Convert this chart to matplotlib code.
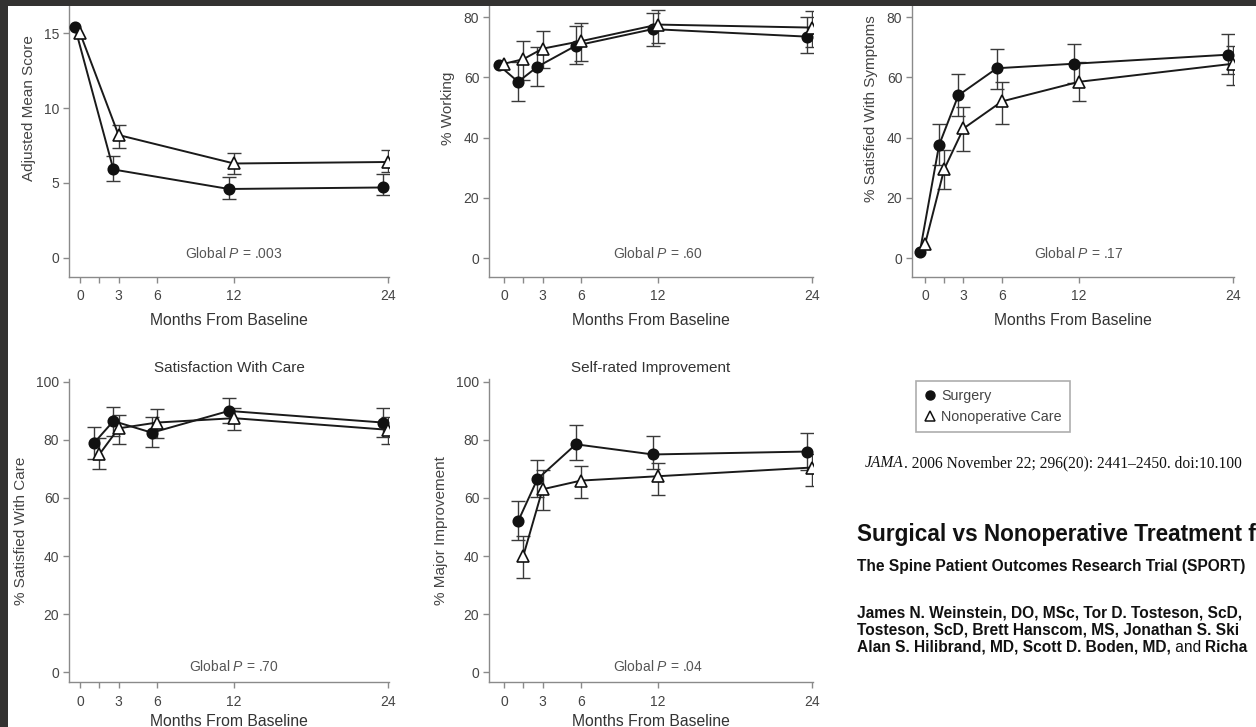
import matplotlib
matplotlib.use("Agg")
import matplotlib.pyplot as plt
from matplotlib.lines import Line2D
from matplotlib.patches import Rectangle
from matplotlib.transforms import blended_transform_factory

plt.rcParams["font.family"] = ["Liberation Sans", "DejaVu Sans"]
plt.rcParams["mathtext.fontset"] = "custom"
plt.rcParams["mathtext.rm"] = "Liberation Sans"
plt.rcParams["mathtext.it"] = "Liberation Sans:italic"

W, H = 1256, 727
DPI = 100

TICKS = [0, 1.5, 3, 6, 12, 24]
TICK_LABELS = ["0", "", "3", "6", "12", "24"]

# --- data ---
# panel 1: adjusted mean score
p1_months = [0, 3, 12, 24]
p1_surg = [15.4, 5.9, 4.6, 4.7]
p1_surg_lo = [None, 5.1, 3.9, 4.2]
p1_surg_hi = [None, 6.8, 5.4, 5.6]
p1_non = [15.0, 8.2, 6.3, 6.4]
p1_non_lo = [None, 7.3, 5.6, 5.7]
p1_non_hi = [None, 8.9, 7.0, 7.2]

# panel 2: % working
p2_months = [0, 1.5, 3, 6, 12, 24]
p2_surg = [64, 58.5, 63.5, 70.5, 76, 73.5]
p2_surg_lo = [None, 52, 57, 64.5, 70.5, 68]
p2_surg_hi = [None, 65, 70, 77, 81.5, 80]
p2_non = [64.5, 66, 69.5, 72, 77.5, 76.5]
p2_non_lo = [None, 59, 63, 65.5, 71.5, 70]
p2_non_hi = [None, 72, 75.5, 78, 82.5, 82]

# panel 3: % satisfied with symptoms
p3_months = [0, 1.5, 3, 6, 12, 24]
p3_surg = [2, 37.5, 54, 63, 64.5, 67.5]
p3_surg_lo = [None, 31, 47, 56, 58, 61]
p3_surg_hi = [None, 44.5, 61, 69.5, 71, 74.5]
p3_non = [4.5, 29.5, 43, 52, 58.5, 64.5]
p3_non_lo = [None, 23, 35.5, 44.5, 52, 57.5]
p3_non_hi = [None, 36, 50, 58.5, 65, 70.5]

# panel 4: satisfaction with care
p4_months = [1.5, 3, 6, 12, 24]
p4_surg = [79, 86.5, 82.5, 90, 86]
p4_surg_lo = [73.5, 81.5, 77.5, 86, 81]
p4_surg_hi = [84.5, 91.5, 88, 94.5, 91]
p4_non = [75, 84, 86, 87.5, 83.5]
p4_non_lo = [70, 78.5, 80.5, 83.5, 78.5]
p4_non_hi = [80.5, 88.5, 90.5, 91, 88]

# panel 5: self-rated improvement
p5_months = [1.5, 3, 6, 12, 24]
p5_surg = [52, 66.5, 78.5, 75, 76]
p5_surg_lo = [45.5, 60.5, 73, 70, 69.5]
p5_surg_hi = [59, 73, 85, 81.5, 82.5]
p5_non = [40, 63, 66, 67.5, 70.5]
p5_non_lo = [32.5, 56, 60, 61, 64]
p5_non_hi = [47, 69.5, 71, 72, 75]

SURG_SHIFT = -0.4   # surgery points are drawn a little left of the visit
NON_SHIFT = 0.0

fig = plt.figure(figsize=(W / DPI, H / DPI), dpi=DPI)
fig.patch.set_facecolor("white")
renderer = fig.canvas.get_renderer()


def px_axes(left, right, top, bottom):
    return fig.add_axes([left / W, 1 - bottom / H, (right - left) / W, (bottom - top) / H])


def series(ax, months, vals, lo, hi, shift, marker, face, ms):
    xs = [m + shift for m in months]
    ex, ey, el, eh = [], [], [], []
    for x, v, a, b in zip(xs, vals, lo, hi):
        if a is None:
            continue
        ex.append(x)
        ey.append(v)
        el.append(v - a)
        eh.append(b - v)
    ax.errorbar(ex, ey, yerr=[el, eh], fmt="none", ecolor="#3a3a3a",
                elinewidth=1.0, capsize=5, capthick=1.0, zorder=2)
    ax.plot(xs, vals, color="#1a1a1a", lw=1.4, marker=marker, ms=ms,
            mfc=face, mec="#111111", mew=1.2, zorder=3)


def panel(rect, xlim, ylim, yticks, ylabel, months, s, s_lo, s_hi, n, n_lo, n_hi,
          ptext, ptext_y, title=None, ylabel_y=0.5, xlabelpad=5):
    ax = px_axes(*rect)
    series(ax, months, s, s_lo, s_hi, SURG_SHIFT, "o", "#111111", 7.5)
    series(ax, months, n, n_lo, n_hi, NON_SHIFT, "^", "white", 8.5)
    ax.set_xlim(*xlim)
    ax.set_ylim(*ylim)
    ax.set_xticks(TICKS)
    ax.set_xticklabels(TICK_LABELS)
    ax.set_yticks(yticks)
    for side in ("top", "right"):
        ax.spines[side].set_visible(False)
    for side in ("left", "bottom"):
        ax.spines[side].set_color("#8a8a8a")
        ax.spines[side].set_linewidth(1.0)
    ax.tick_params(colors="#8a8a8a", labelcolor="#444444", labelsize=10,
                   length=4, width=1.0, pad=3)
    ax.tick_params(axis="x", pad=5)
    ax.set_xlabel("Months From Baseline", fontsize=11.3, color="#333333",
                  labelpad=xlabelpad)
    ax.set_ylabel(ylabel, fontsize=11, color="#444444", labelpad=6)
    ax.yaxis.label.set_y(ylabel_y)
    tr = blended_transform_factory(ax.transData, ax.transAxes)
    ax.text(12, ptext_y, ptext, transform=tr, ha="center", va="center",
            fontsize=10, color="#555555")
    if title:
        ax.set_title(title, fontsize=11, color="#333333", pad=5)
    return ax


panel((69, 389, 5, 277), (-0.86, 24.08), (-1.27, 16.87), [0, 5, 10, 15],
      "Adjusted Mean Score", p1_months, p1_surg, p1_surg_lo, p1_surg_hi,
      p1_non, p1_non_lo, p1_non_hi, "Global $P$ = .003", 0.085,
      ylabel_y=0.62, xlabelpad=7)
panel((489, 813, 5, 277), (-1.17, 24.08), (-6.3, 84), [0, 20, 40, 60, 80],
      "% Working", p2_months, p2_surg, p2_surg_lo, p2_surg_hi,
      p2_non, p2_non_lo, p2_non_hi, "Global $P$ = .60", 0.085,
      ylabel_y=0.62, xlabelpad=7)
panel((912, 1234, 5, 277), (-1.01, 24.08), (-6.3, 84), [0, 20, 40, 60, 80],
      "% Satisfied With Symptoms", p3_months, p3_surg, p3_surg_lo, p3_surg_hi,
      p3_non, p3_non_lo, p3_non_hi, "Global $P$ = .17", 0.085,
      ylabel_y=0.62, xlabelpad=7)
panel((69, 389, 379, 682), (-0.86, 24.08), (-3.4, 101), [0, 20, 40, 60, 80, 100],
      "% Satisfied With Care", p4_months, p4_surg, p4_surg_lo, p4_surg_hi,
      p4_non, p4_non_lo, p4_non_hi, "Global $P$ = .70", 0.05,
      title="Satisfaction With Care", xlabelpad=4)
panel((489, 813, 379, 682), (-1.17, 24.08), (-3.4, 101), [0, 20, 40, 60, 80, 100],
      "% Major Improvement", p5_months, p5_surg, p5_surg_lo, p5_surg_hi,
      p5_non, p5_non_lo, p5_non_hi, "Global $P$ = .04", 0.05,
      title="Self-rated Improvement", xlabelpad=4)

# legend
handles = [
    Line2D([], [], ls="none", marker="o", ms=6.5, mfc="#111111", mec="#111111"),
    Line2D([], [], ls="none", marker="^", ms=7.5, mfc="white", mec="#111111", mew=1.1),
]
leg = fig.legend(handles, ["Surgery", "Nonoperative Care"], loc="upper left",
                 bbox_to_anchor=(916 / W, 1 - 381 / H), fontsize=10.3,
                 frameon=True, fancybox=False, handlelength=0.8, handletextpad=0.4,
                 borderpad=0.55, labelspacing=0.5, borderaxespad=0)
leg.get_frame().set_edgecolor("#999999")
leg.get_frame().set_linewidth(1.2)
for t in leg.get_texts():
    t.set_color("#444444")


def run_text(x_px, y_px, parts, **kw):
    # write text pieces one after another on a line
    x = x_px / W
    for s, extra in parts:
        t = fig.text(x, 1 - y_px / H, s, va="center", color="#111111", **kw, **extra)
        x = t.get_window_extent(renderer).x1 / W


# citation and paper header on the right (the screenshot cuts them at its edge)
run_text(865, 463, [("JAMA", {"style": "italic"}),
                    (". 2006 November 22; 296(20): 2441\u20132450. doi:10.100", {})],
         family="Liberation Serif", fontsize=11.2)
fig.text(857 / W, 1 - 535 / H, "Surgical vs Nonoperative Treatment f",
         fontsize=16.3, weight="bold", va="center", color="#111111")
fig.text(857 / W, 1 - 567 / H, "The Spine Patient Outcomes Research Trial (SPORT)",
         fontsize=11.2, weight="bold", va="center", color="#111111")
fig.text(857 / W, 1 - 613 / H, "James N. Weinstein, DO, MSc, Tor D. Tosteson, ScD,",
         fontsize=11.2, weight="bold", va="center", color="#111111")
fig.text(857 / W, 1 - 630 / H, "Tosteson, ScD, Brett Hanscom, MS, Jonathan S. Ski",
         fontsize=11.2, weight="bold", va="center", color="#111111")
run_text(857, 647, [("Alan S. Hilibrand, MD, Scott D. Boden, MD,", {"weight": "bold"}),
                    (" and ", {}), ("Richa", {"weight": "bold"})],
         fontsize=11.2)

# dark screenshot border (top and left)
fig.patches.append(Rectangle((0, 1 - 6 / H), 1, 6 / H, transform=fig.transFigure,
                             facecolor="#333231", edgecolor="none", zorder=10))
fig.patches.append(Rectangle((0, 0), 8 / W, 1, transform=fig.transFigure,
                             facecolor="#333231", edgecolor="none", zorder=10))

fig.savefig("out.png", dpi=DPI)
